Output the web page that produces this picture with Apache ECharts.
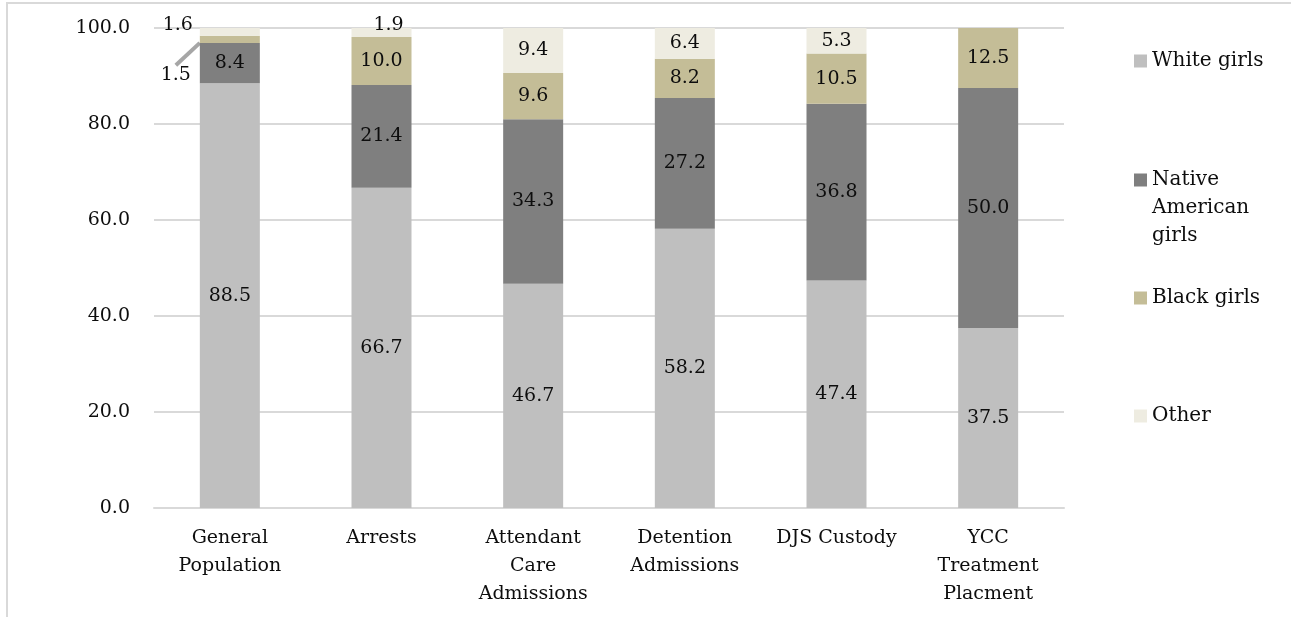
<!DOCTYPE html>
<html>
<head>
<meta charset="utf-8">
<script src="https://cdn.jsdelivr.net/npm/echarts@6/dist/echarts.min.js"></script>
<style>
  html, body { margin: 0; padding: 0; background: #ffffff; }
  #chart { width: 1291px; height: 617px; }
</style>
</head>
<body>
<div id="chart"></div>
<script>
// Share of girls by race at each stage of the system (percent)
const categories = ['General\nPopulation', 'Arrests', 'Attendant\nCare\nAdmissions', 'Detention\nAdmissions', 'DJS Custody', 'YCC\nTreatment\nPlacment'];
const whiteGirls = [88.5, 66.7, 46.7, 58.2, 47.4, 37.5];
const nativeAmericanGirls = [8.4, 21.4, 34.3, 27.2, 36.8, 50.0];
const blackGirls = [1.5, 10.0, 9.6, 8.2, 10.5, 12.5];
const otherGirls = [1.6, 1.9, 9.4, 6.4, 5.3, null];
const yTicks = [0, 20, 40, 60, 80, 100];

const FONT = 'DejaVu Serif';
const TEXT = '#0d0d0d';
const colors = {
  white: '#bfbfbf',
  native: '#7f7f7f',
  black: '#c4bd97',
  other: '#eeece1'
};

const chart = echarts.init(document.getElementById('chart'), null, { renderer: 'canvas' });

const baseLabel = {
  show: true,
  position: 'inside',
  color: TEXT,
  fontFamily: FONT,
  fontSize: 19,
  formatter: p => p.value == null ? '' : Number(p.value).toFixed(1)
};

// small segments whose labels sit outside the bar
const blackData = blackGirls.map((v, i) => {
  if (i === 0) {
    return {
      value: v,
      label: { position: [-24, 39], align: 'center', verticalAlign: 'middle' },
      labelLine: { show: true, lineStyle: { color: '#a6a6a6', width: 4 } }
    };
  }
  return v;
});
const otherData = otherGirls.map((v, i) => {
  if (i === 0) {
    return { value: v, label: { position: [-22, -3], align: 'center', verticalAlign: 'middle' } };
  }
  if (i === 1) {
    return { value: v, label: { position: [37, -3], align: 'center', verticalAlign: 'middle' } };
  }
  return v;
});

function barSeries(name, data, color) {
  return {
    name: name,
    type: 'bar',
    stack: 'total',
    barWidth: 60,
    data: data,
    itemStyle: { color: color },
    label: baseLabel,
    emphasis: { disabled: true }
  };
}

function legendAt(name, top, extra) {
  return Object.assign({
    data: [name],
    orient: 'vertical',
    left: 1134,
    top: top,
    padding: 0,
    itemWidth: 13,
    itemHeight: 13,
    itemGap: 0,
    icon: 'rect',
    selectedMode: false,
    textStyle: { fontFamily: FONT, fontSize: 20, color: TEXT, lineHeight: 28 }
  }, extra || {});
}

const option = {
  animation: false,
  backgroundColor: '#ffffff',
  textStyle: { fontFamily: FONT },
  grid: { left: 154, right: 227, top: 28, bottom: 109, containLabel: false },
  legend: [
    legendAt('White girls', 47),
    // two empty leading lines keep the marker beside the first word
    legendAt('Native American girls', 110, {
      formatter: () => '\n\nNative\nAmerican\ngirls'
    }),
    legendAt('Black girls', 284),
    legendAt('Other', 402)
  ],
  xAxis: {
    type: 'category',
    data: categories,
    axisLine: { show: true, lineStyle: { color: '#d9d9d9', width: 2 } },
    axisTick: { show: false },
    axisLabel: {
      interval: 0,
      margin: 16,
      color: TEXT,
      fontFamily: FONT,
      fontSize: 19,
      lineHeight: 28
    }
  },
  yAxis: {
    type: 'value',
    min: 0,
    max: 100,
    interval: 20,
    axisLine: { show: false },
    axisTick: { show: false },
    splitLine: { lineStyle: { color: '#d9d9d9', width: 2 } },
    axisLabel: {
      margin: 24,
      color: TEXT,
      fontFamily: FONT,
      fontSize: 19,
      formatter: v => yTicks.includes(v) ? v.toFixed(1) : ''
    }
  },
  graphic: [
    {
      type: 'rect',
      silent: true,
      shape: { x: 7, y: 3, width: 1300, height: 640 },
      style: { fill: 'none', stroke: '#d9d9d9', lineWidth: 2 },
      z: -10
    }
  ],
  series: [
    barSeries('White girls', whiteGirls, colors.white),
    barSeries('Native American girls', nativeAmericanGirls, colors.native),
    barSeries('Black girls', blackData, colors.black),
    barSeries('Other', otherData, colors.other)
  ]
};

chart.setOption(option);
</script>
</body>
</html>
